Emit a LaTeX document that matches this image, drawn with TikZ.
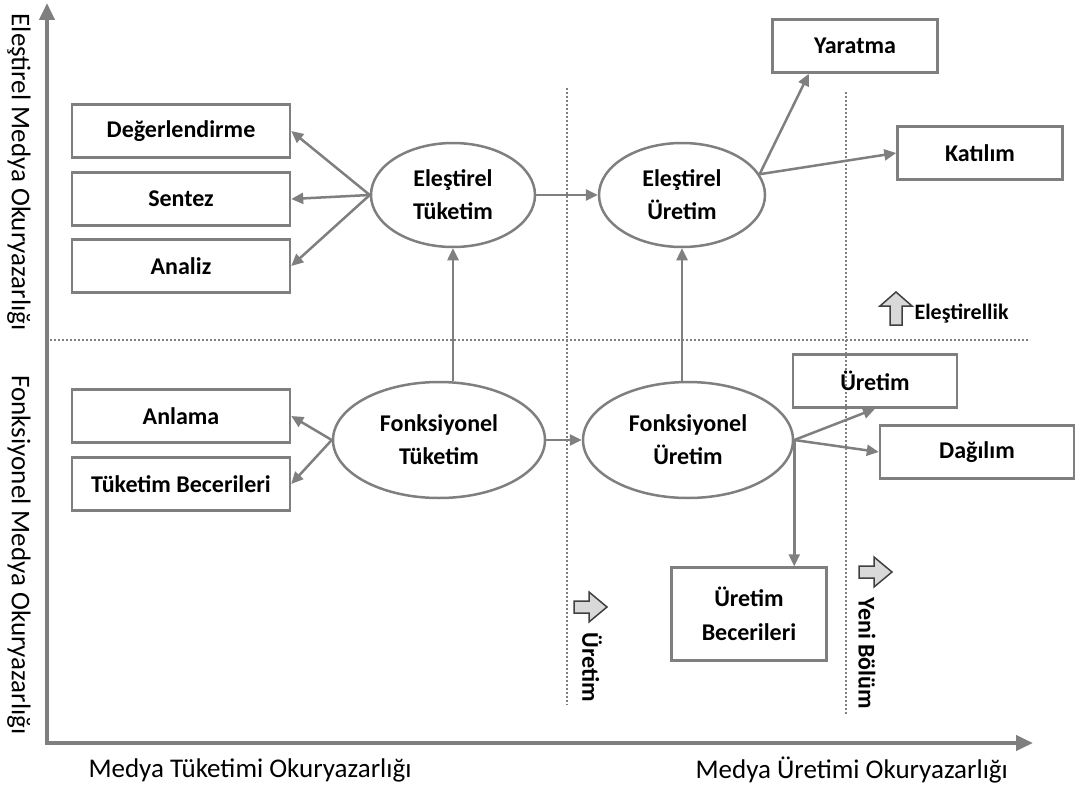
\documentclass[tikz,border=0pt]{standalone}
\usepackage{fontspec}
\setmainfont{Carlito}
\usetikzlibrary{shapes.geometric,arrows.meta}
\definecolor{linegray}{HTML}{7F7F7F}
\tikzset{
  box/.style={draw=linegray,line width=2.5pt,minimum height=53pt,inner sep=0pt,
    font=\bfseries\fontsize{24}{34}\selectfont,align=center},
  oval/.style={ellipse,draw=linegray,line width=2.5pt,inner sep=0pt,
    font=\bfseries\fontsize{24}{33}\selectfont,align=center},
  link/.style={-{Triangle[length=12pt,width=11pt]},draw=linegray,line width=2.5pt},
  sep/.style={draw=linegray,line width=2pt,dotted},
  blockarrow/.style={draw=black!75,fill=black!15,line width=1.5pt},
  axislabel/.style={font=\fontsize{27}{32}\selectfont},
  marklabel/.style={font=\bfseries\fontsize{24}{28}\selectfont},
}
\begin{document}
\begin{tikzpicture}[x=1pt,y=-1pt]
\useasboundingbox (0,0) rectangle (1075,789);

% axes
\draw[{Triangle[length=17pt,width=15pt]}-{Triangle[length=17pt,width=15pt]},linegray,line width=4pt]
  (47,3) |- (1033,743);
\node[axislabel,anchor=west] (xlow) at (85,770) {Medya Tüketimi Okuryazarlığı};
\node[axislabel,anchor=west] (xhigh) at (692,770) {Medya Üretimi Okuryazarlığı};
\node[axislabel,rotate=-90] (ylow) at (19,555) {Fonksiyonel Medya Okuryazarlığı};
\node[axislabel,rotate=-90] (yhigh) at (19,172) {Eleştirel Medya Okuryazarlığı};

% dotted borders
\draw[sep] (50,340) -- (1030,340);
\draw[sep] (567,88) -- (567,705);
\draw[sep] (846,92) -- (846,715);

% consumption side
\node[box,minimum width=218pt] (deg) at (181,131) {Değerlendirme};
\node[box,minimum width=218pt] (sen) at (181,199) {Sentez};
\node[box,minimum width=218pt] (ana) at (181,266) {Analiz};
\node[box,minimum width=218pt] (anl) at (181,416) {Anlama};
\node[box,minimum width=218pt] (tb) at (181,484) {Tüketim Becerileri};
\node[oval,minimum width=164pt,minimum height=104pt] (et) at (453,195) {Eleştirel\\Tüketim};
\node[oval,minimum width=212pt,minimum height=116pt] (ft) at (439,440) {Fonksiyonel\\Tüketim};

% production side
\node[oval,minimum width=166pt,minimum height=104pt] (eu) at (682,195) {Eleştirel\\Üretim};
\node[oval,minimum width=210pt,minimum height=116pt] (fu) at (688,440) {Fonksiyonel\\Üretim};
\node[box,minimum width=165pt] (yar) at (855,46) {Yaratma};
\node[box,minimum width=165pt] (kat) at (980,153) {Katılım};
\node[box,minimum width=164pt] (ur) at (875,381) {Üretim};
\node[box,minimum width=194pt] (dag) at (977,452) {Dağılım};
\node[box,minimum width=155pt,minimum height=93pt] (ub) at (749,614) {Üretim\\Becerileri};

% connectors
\foreach \t in {deg,sen,ana} \draw[link] (et.west) -- (\t.east);
\foreach \t in {anl,tb} \draw[link] (ft.west) -- (\t.east);
\draw[link] (et.east) -- (eu.west);
\draw[link] (ft.east) -- (fu.west);
\draw[link] (et.south |- ft.north) -- (et.south);
\draw[link] (eu.south |- fu.north) -- (eu.south);
\draw[link] (eu.15) -- (yar.211);
\draw[link] (eu.15) -- (kat.west);
\draw[link] (fu.east) -- (ur.south);
\draw[link] (fu.east) -- (dag.west);
\draw[link] (fu.east) -- (fu.east |- ub.north);

% block arrows
\draw[blockarrow,shift={(574,607)}] (0,-6) -- (15,-6) -- (15,-15) -- (33,0) -- (15,15) -- (15,6) -- (0,6) -- cycle;
\node[marklabel,rotate=-90,anchor=west] (pmark) at (592,629) {Üretim};
\draw[blockarrow,shift={(859,572)}] (0,-6) -- (15,-6) -- (15,-15) -- (33,0) -- (15,15) -- (15,6) -- (0,6) -- cycle;
\node[marklabel,rotate=-90,anchor=west] (nmark) at (867,594) {Yeni Bölüm};
\draw[blockarrow,shift={(896,325)}] (-6,0) -- (-6,-19) -- (-16,-19) -- (0,-33) -- (16,-19) -- (6,-19) -- (6,0) -- cycle;
\node[marklabel,font=\bfseries\fontsize{22}{26}\selectfont,anchor=west] (cmark) at (911,314) {Eleştirellik};
\end{tikzpicture}
\end{document}
